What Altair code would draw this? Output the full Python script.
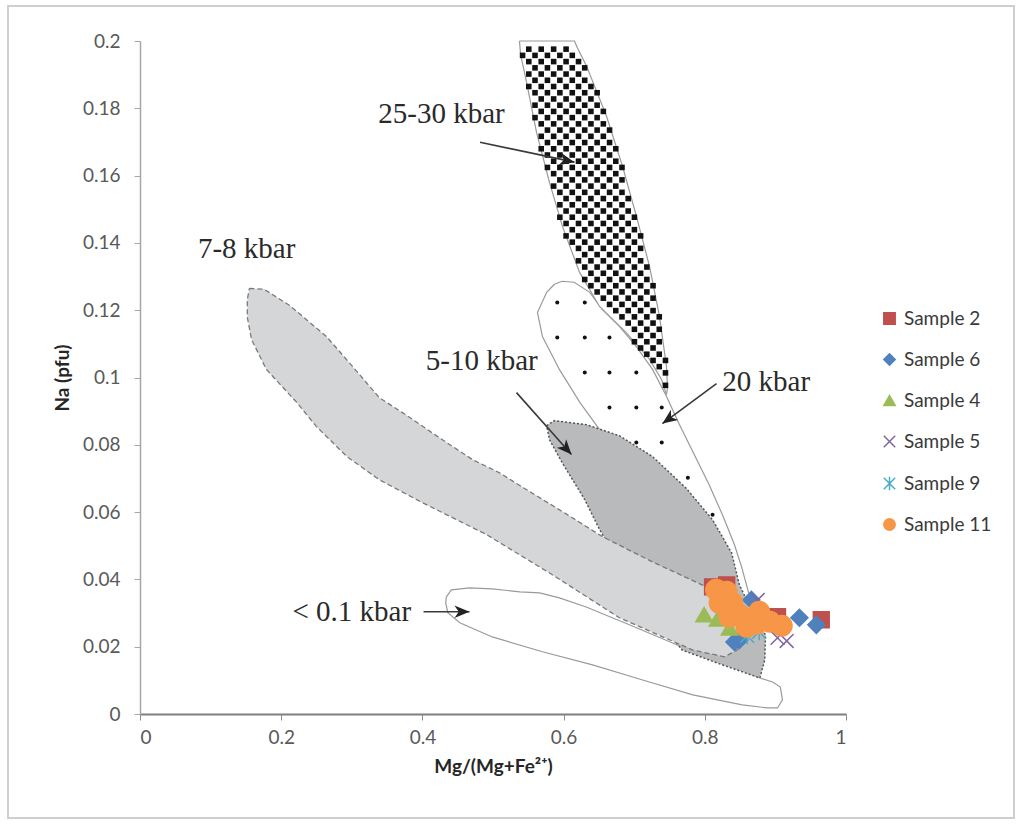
import altair as alt
import pandas as pd

# ---------------- axes ----------------
x_ticks = [0, 0.2, 0.4, 0.6, 0.8, 1]
y_ticks = [0, 0.02, 0.04, 0.06, 0.08, 0.1, 0.12, 0.14, 0.16, 0.18, 0.2]

# ---------------- samples ----------------
series = ["Sample 2", "Sample 6", "Sample 4", "Sample 5", "Sample 9", "Sample 11"]
series_colors = ["#C0504D", "#4F81BD", "#9BBB59", "#8064A2", "#4BACC6", "#F79646"]
series_fills = ["#C0504D", "#4F81BD", "#9BBB59", "transparent", "transparent", "#F79646"]
series_shapes = ["square", "diamond", "triangle-up",
                 "M-1,-1L1,1M-1,1L1,-1",
                 "M-1,-1L1,1M-1,1L1,-1M0,-1.2L0,1.2",
                 "circle"]
series_sizes = [250, 290, 270, 190, 190, 420]

s2_x = [0.811, 0.831, 0.903, 0.965]
s2_y = [0.0378, 0.0384, 0.0289, 0.0280]
s6_x = [0.842, 0.849, 0.866, 0.934, 0.958]
s6_y = [0.0214, 0.0220, 0.0339, 0.0286, 0.0265]
s4_x = [0.799, 0.818, 0.835]
s4_y = [0.0295, 0.0283, 0.0256]
s5_x = [0.875, 0.903, 0.916]
s5_y = [0.0339, 0.0226, 0.0217]
s9_x = [0.860, 0.877, 0.892]
s9_y = [0.0232, 0.0244, 0.0280]
s11_x = [0.816, 0.831, 0.821, 0.839, 0.849, 0.835, 0.859, 0.873, 0.877, 0.892, 0.909]
s11_y = [0.0369, 0.0363, 0.0330, 0.0330, 0.0295, 0.0289, 0.0259, 0.0268, 0.0304, 0.0274, 0.0262]

# ---------------- pressure fields (outlines) ----------------
f78_x = [0.155, 0.176, 0.212, 0.264, 0.301, 0.339, 0.378, 0.424, 0.471, 0.509, 0.538, 0.608,
         0.655, 0.726, 0.802, 0.842, 0.861, 0.861, 0.846, 0.828, 0.783, 0.679, 0.584, 0.491,
         0.400, 0.339, 0.293, 0.250, 0.222, 0.179, 0.158, 0.152, 0.152]
f78_y = [0.1265, 0.1262, 0.1214, 0.1122, 0.1033, 0.0940, 0.0887, 0.0821, 0.0756, 0.0717, 0.0679,
         0.0589, 0.0527, 0.0452, 0.0378, 0.0339, 0.0295, 0.0235, 0.0190, 0.0170, 0.0190, 0.0286,
         0.0414, 0.0533, 0.0628, 0.0696, 0.0765, 0.0854, 0.0926, 0.1024, 0.1113, 0.1179, 0.1232]

f510_x = [0.576, 0.587, 0.632, 0.679, 0.726, 0.774, 0.811, 0.838, 0.849, 0.866, 0.886, 0.885,
          0.878, 0.821, 0.768, 0.722, 0.672, 0.651, 0.630, 0.598, 0.580]
f510_y = [0.0857, 0.0872, 0.0860, 0.0827, 0.0765, 0.0670, 0.0577, 0.0479, 0.0384, 0.0310, 0.0235,
          0.0161, 0.0107, 0.0149, 0.0190, 0.0310, 0.0473, 0.0548, 0.0637, 0.0747, 0.0815]

f20_x = [0.587, 0.598, 0.615, 0.637, 0.655, 0.679, 0.703, 0.726, 0.746, 0.764, 0.785, 0.806,
         0.825, 0.842, 0.852, 0.861, 0.870, 0.878, 0.856, 0.793, 0.707, 0.651, 0.623, 0.594,
         0.570, 0.563, 0.576]
f20_y = [0.1277, 0.1286, 0.1283, 0.1253, 0.1202, 0.1152, 0.1092, 0.1024, 0.0943, 0.0860, 0.0771,
         0.0682, 0.0592, 0.0503, 0.0438, 0.0369, 0.0304, 0.0250, 0.0220, 0.0339, 0.0577, 0.0845,
         0.0926, 0.1024, 0.1122, 0.1193, 0.1253]

f2530_x = [0.5375, 0.5390, 0.5475, 0.5616, 0.5800, 0.5984, 0.6225, 0.6509, 0.6884, 0.7217, 0.7387,
           0.7457, 0.7472, 0.7457, 0.7358, 0.7217, 0.7032, 0.6834, 0.6607, 0.6324, 0.6197, 0.6154]
f2530_y = [0.2000, 0.1961, 0.1878, 0.1729, 0.1580, 0.1449, 0.1313, 0.1211, 0.1134, 0.1054, 0.0994,
           0.0949, 0.0970, 0.1033, 0.1182, 0.1330, 0.1479, 0.1628, 0.1777, 0.1926, 0.1979, 0.2000]

f01_x = [0.434, 0.441, 0.467, 0.499, 0.538, 0.566, 0.594, 0.632, 0.669, 0.683, 0.778, 0.835,
         0.878, 0.896, 0.907, 0.910, 0.903, 0.889, 0.853, 0.783, 0.712, 0.641, 0.570, 0.499,
         0.453, 0.436, 0.433]
f01_y = [0.0348, 0.0369, 0.0375, 0.0372, 0.0363, 0.0360, 0.0345, 0.0318, 0.0286, 0.0274, 0.0190,
         0.0146, 0.0107, 0.0095, 0.0080, 0.0042, 0.0018, 0.0018, 0.0027, 0.0057, 0.0101, 0.0146,
         0.0185, 0.0229, 0.0271, 0.0301, 0.0330]

# dots of the 20 kbar field
dot_x = [0.591, 0.630, 0.591, 0.630, 0.665, 0.630, 0.665, 0.703, 0.665, 0.703, 0.739,
         0.703, 0.739, 0.776, 0.811]
dot_y = [0.1223, 0.1223, 0.1119, 0.1119, 0.1119, 0.1015, 0.1015, 0.1015, 0.0911, 0.0911, 0.0911,
         0.0807, 0.0807, 0.0702, 0.0592]

# checkerboard texture of the 25-30 kbar field (cell size in axis units)
tex_cell_x = 0.0088
tex_cell_y = 0.00185

# ---------------- annotations ----------------
label_text = ["25-30 kbar", "7-8 kbar", "5-10 kbar", "20 kbar", "< 0.1 kbar"]
label_x = [0.427, 0.151, 0.484, 0.887, 0.300]
label_y = [0.1783, 0.1381, 0.1048, 0.0988, 0.0304]

arrow_x0 = [0.4816, 0.5333, 0.8166, 0.4016]
arrow_y0 = [0.1699, 0.0955, 0.0982, 0.0304]
arrow_x1 = [0.6154, 0.6112, 0.7400, 0.4667]
arrow_y1 = [0.1640, 0.0771, 0.0863, 0.0304]
arrow_angle = [12, 48, 144, 0]

ARROW_HEAD = "M0,0L-1,-0.42L-0.72,0L-1,0.42Z"

# ---------------- helpers ----------------
XS = alt.Scale(domain=[0, 1], nice=False, zero=False)
YS = alt.Scale(domain=[0, 0.2], nice=False, zero=False)

x_axis = alt.Axis(values=x_ticks, format="~g", title="Mg/(Mg+Fe²⁺)", grid=False,
                  domainColor="#7f7f7f", domainWidth=2, tickColor="#8c8c8c", tickSize=6,
                  labelFont="Lato", labelFontSize=19, labelColor="#595959", labelPadding=8,
                  titleFont="Lato", titleFontSize=19, titleFontWeight="bold", titleColor="#262626",
                  titlePadding=10)
y_axis = alt.Axis(values=y_ticks, format="~g", title="Na (pfu)", grid=False,
                  domainColor="#a6a6a6", domainWidth=1.5, tickColor="#a6a6a6", tickSize=6,
                  labelFont="Lato", labelFontSize=19, labelColor="#595959", labelPadding=14,
                  titleFont="Lato", titleFontSize=19, titleFontWeight="bold", titleColor="#262626",
                  titlePadding=10)


def X(f):
    return alt.X(f, type="quantitative", scale=XS, axis=x_axis)


def Y(f):
    return alt.Y(f, type="quantitative", scale=YS, axis=y_axis)


def poly_df(xs, ys):
    xs2 = list(xs) + [xs[0]]
    ys2 = list(ys) + [ys[0]]
    return pd.DataFrame({"x": xs2, "y": ys2, "i": list(range(len(xs2)))})


def poly_layer(xs, ys, fill, stroke, dash=None, width=1.2):
    kw = dict(filled=True, fill=fill, stroke=stroke, strokeWidth=width, interpolate="linear")
    if dash:
        kw["strokeDash"] = dash
    return alt.Chart(poly_df(xs, ys)).mark_line(**kw).encode(
        x=X("x"), y=Y("y"), order=alt.Order("i:Q"))


def inside(px, py, xs, ys):
    res = False
    j = len(xs) - 1
    for i in range(len(xs)):
        if (ys[i] > py) != (ys[j] > py):
            xc = xs[i] + (py - ys[i]) * (xs[j] - xs[i]) / (ys[j] - ys[i])
            if px < xc:
                res = not res
        j = i
    return res


# texture squares for the 25-30 kbar field
tex_x, tex_y = [], []
x0, y0 = min(f2530_x), min(f2530_y)
ncol = int((max(f2530_x) - x0) / tex_cell_x) + 2
nrow = int((max(f2530_y) - y0) / tex_cell_y) + 2
for r in range(nrow):
    for c in range(ncol):
        if (r + c) % 2 == 0:
            cx = x0 + (c + 0.5) * tex_cell_x
            cy = y0 + (r + 0.5) * tex_cell_y
            if cy <= 0.1992 and inside(cx, cy, f2530_x, f2530_y):
                tex_x.append(cx)
                tex_y.append(cy)

# ---------------- layers ----------------
layers = []

frame = alt.Chart(pd.DataFrame({"a": [0]})).mark_rect(
    fill="transparent", stroke="#cfcfcf", strokeWidth=2).encode(
    x=alt.value(-132), x2=alt.value(874), y=alt.value(-35), y2=alt.value(777))
layers.append(frame)

layers.append(poly_layer(f20_x, f20_y, "white", "#9a9a9a", None, 1.2))
layers.append(poly_layer(f2530_x, f2530_y, "white", "#9a9a9a", None, 1.2))
layers.append(alt.Chart(pd.DataFrame({"x": tex_x, "y": tex_y})).mark_point(
    shape="square", filled=True, size=31, color="#111111", opacity=1).encode(x=X("x"), y=Y("y")))
layers.append(poly_layer(f01_x, f01_y, "white", "#9a9a9a", None, 1.2))
layers.append(poly_layer(f510_x, f510_y, "#b9babc", "#555555", [2, 2], 1.5))
layers.append(poly_layer(f78_x, f78_y, "#d5d6d8", "#7a7a7a", [5, 3], 1.3))
layers.append(alt.Chart(pd.DataFrame({"x": dot_x, "y": dot_y})).mark_point(
    shape="circle", filled=True, size=16, color="#111111", opacity=1).encode(x=X("x"), y=Y("y")))

arrows = pd.DataFrame({"x0": arrow_x0, "y0": arrow_y0, "x1": arrow_x1, "y1": arrow_y1,
                       "angle": arrow_angle})
layers.append(alt.Chart(arrows).mark_rule(color="#3a3a3a", strokeWidth=1.6).encode(
    x=X("x0"), y=Y("y0"), x2="x1", y2="y1"))
layers.append(alt.Chart(arrows).mark_point(
    shape=ARROW_HEAD, filled=True, size=900, color="#222222", opacity=1, strokeWidth=0).encode(
    x=X("x1"), y=Y("y1"), angle=alt.Angle("angle:Q", scale=None)))

labels = pd.DataFrame({"t": label_text, "x": label_x, "y": label_y})
layers.append(alt.Chart(labels).mark_text(
    font="Liberation Serif", fontSize=29, color="#2a2a2a", align="center", baseline="middle").encode(
    x=X("x"), y=Y("y"), text="t:N"))

# samples
rows = []
for k, (name, xs, ys) in enumerate([("Sample 2", s2_x, s2_y), ("Sample 6", s6_x, s6_y),
                                    ("Sample 4", s4_x, s4_y), ("Sample 5", s5_x, s5_y),
                                    ("Sample 9", s9_x, s9_y), ("Sample 11", s11_x, s11_y)]):
    for a, b in zip(xs, ys):
        rows.append({"series": name, "x": a, "y": b, "sz": series_sizes[k]})
pts = pd.DataFrame(rows)

leg = alt.Legend(title=None, orient="none", legendX=740, legendY=268, labelFont="Lato",
                 labelFontSize=19, labelColor="#3a3a3a", rowPadding=21, symbolSize=130,
                 symbolStrokeWidth=1.5, labelOffset=5, padding=0)

layers.append(alt.Chart(pts).mark_point(opacity=1, strokeWidth=1.5).encode(
    x=X("x"), y=Y("y"),
    shape=alt.Shape("series:N", scale=alt.Scale(domain=series, range=series_shapes), legend=leg),
    fill=alt.Fill("series:N", scale=alt.Scale(domain=series, range=series_fills), legend=leg),
    stroke=alt.Stroke("series:N", scale=alt.Scale(domain=series, range=series_colors), legend=leg),
    size=alt.Size("sz:Q", scale=None),
))

chart = alt.layer(*layers).properties(
    width=706, height=673,
    padding={"left": 140, "top": 41, "right": 173, "bottom": 111},
    autosize=alt.AutoSizeParams(type="none"),
    background="white",
).configure_view(strokeWidth=0)

chart.save("out.html", embed_options={"renderer": "svg", "actions": False})
